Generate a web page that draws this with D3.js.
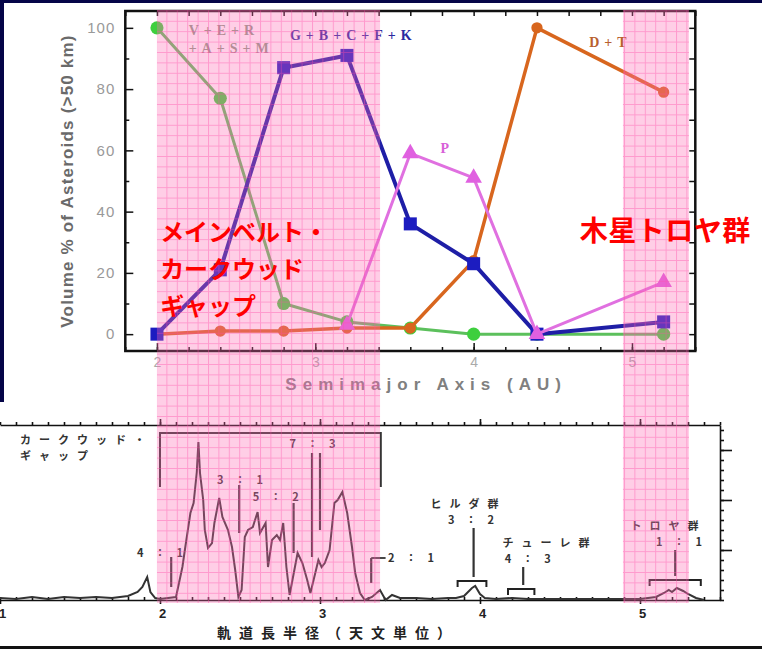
<!DOCTYPE html>
<html lang="ja">
<head>
  <meta charset="UTF-8" />
  <title>Asteroid types and Kirkwood gaps</title>
  <style>
    html, body { margin: 0; padding: 0; background: #fff; }
    svg { display: block; }
  </style>
</head>
<body>
  <svg width="762" height="649"></svg>
  <script src="https://d3js.org/d3.v7.min.js"></script>
  <script>
    // top chart: volume % of asteroids (>50 km) per class
    const bins = [2.0, 2.4, 2.8, 3.2, 3.6, 4.0, 4.4, 5.2];
    const vesrasm = [100, 77, 10, 4, 2, 0, 0, 0];
    const gbcfk = [0, 21, 87, 91, 36, 23, 0, 4];
    const pClass = [null, null, null, 3, 59, 51, 0, 17];
    const dtClass = [0, 1, 1, 2, 2, 24, 100, 79];

    const yTicks = [0, 20, 40, 60, 80, 100];
    const xTicks = [2, 3, 4, 5];

    // bottom chart: number of asteroids vs semimajor axis
    const histAU = [1.00, 1.10, 1.20, 1.30, 1.40, 1.50, 1.60, 1.70, 1.80, 1.86, 1.89, 1.92, 1.94, 1.97,
      2.00, 2.05, 2.10, 2.14, 2.16, 2.19, 2.21, 2.23, 2.24, 2.25, 2.27, 2.28, 2.30, 2.325, 2.34, 2.37,
      2.39, 2.425, 2.45, 2.47, 2.49, 2.51, 2.53, 2.55, 2.58, 2.61, 2.625, 2.66, 2.675, 2.70, 2.73, 2.75,
      2.77, 2.79, 2.81, 2.86, 2.89, 2.92, 2.94, 2.96, 2.99, 3.01, 3.03, 3.06, 3.09, 3.11, 3.14, 3.17,
      3.20, 3.22, 3.25, 3.28, 3.325, 3.375, 3.41, 3.45, 3.50, 3.60, 3.70, 3.80, 3.85, 3.90, 3.95, 3.97,
      4.00, 4.03, 4.10, 4.20, 4.30, 4.50, 4.70, 4.90, 5.00, 5.10, 5.15, 5.18, 5.20, 5.23, 5.27, 5.30,
      5.35, 5.40];
    const histCount = [2, 1, 3, 1, 3, 2, 3, 2, 4, 8, 13, 23, 8, 2,
      1, 2, 3, 33, 55, 87, 97, 128, 158, 127, 100, 70, 52, 57, 77, 102,
      83, 70, 53, 30, 3, 10, 63, 70, 73, 88, 67, 77, 33, 60, 65, 60,
      77, 33, 5, 47, 37, 20, 7, 20, 40, 33, 37, 50, 97, 100, 108, 87,
      53, 27, 7, 0, 3, 10, 0, 5, 2, 2, 1, 2, 2, 4, 12, 14,
      6, 2, 1, 2, 1, 1, 1, 1, 1, 3, 7, 10, 8, 12, 9, 6,
      2, 0];

    // resonance marker lines: position, upper and lower count
    const resAU = [2.07, 2.495, 2.835, 2.95, 3.0, 3.32, 3.96, 4.27, 5.22];
    const resTop = [43, 115, 97, 147, 147, 42, 72, 33, 50];
    const resBottom = [13, 67, 47, 43, 70, 17, 23, 15, 24];

    // group brackets: from, to, level
    const brFrom = [3.86, 4.175, 5.06];
    const brTo = [4.04, 4.34, 5.38];
    const brLevel = [19, 11, 20];

    const resLabels = ["4：1", "3：1", "5：2", "7：3", "2：1", "3：2", "4：3", "1：1"];
    const resLabelAU = [1.856, 2.356, 2.58, 2.81, 3.425, 3.80, 4.155, 5.10];
    const resLabelCount = [43, 116, 99, 152, 38, 76, 37, 54];

    const groupNames = ["ヒルダ群", "チューレ群", "トロヤ群"];
    const groupAU = [3.69, 4.14, 4.94];
    const groupCount = [92, 53, 70];

    const svg = d3.select("svg");

    // ---------- top chart ----------
    const x = d3.scaleLinear().domain([1.8, 5.4]).range([125.3, 695.3]);
    const y = d3.scaleLinear().domain([-5.5, 105.5]).range([351, 11]);

    const upper = svg.append("g").attr("font-family", "'Liberation Sans', Arial, sans-serif");

    upper.append("g")
      .attr("transform", `translate(${x.range()[0]},0)`)
      .call(d3.axisLeft(y).tickValues(yTicks).tickSizeInner(-8).tickSizeOuter(0).tickPadding(10))
      .call(g => g.select(".domain").remove())
      .call(g => g.selectAll("text").attr("font-size", 15).attr("fill", "#999").attr("letter-spacing", 1));
    upper.append("g")
      .attr("transform", `translate(${x.range()[0]},0)`)
      .call(d3.axisLeft(y).tickValues(d3.range(10, 100, 20)).tickSizeInner(-4).tickSizeOuter(0).tickFormat(""))
      .call(g => g.select(".domain").remove());
    upper.append("g")
      .attr("transform", `translate(${x.range()[1]},0)`)
      .call(d3.axisRight(y).tickValues(d3.range(0, 101, 10)).tickSizeInner(-6).tickSizeOuter(0).tickFormat(""))
      .call(g => g.select(".domain").remove());

    upper.append("g")
      .attr("transform", `translate(0,${y.range()[0]})`)
      .call(d3.axisBottom(x).tickValues(xTicks).tickSizeInner(-8).tickSizeOuter(0).tickPadding(6).tickFormat(d3.format("d")))
      .call(g => g.select(".domain").remove())
      .call(g => g.selectAll("text").attr("font-size", 14).attr("fill", "#aaa"));
    upper.append("g")
      .attr("transform", `translate(0,${y.range()[0]})`)
      .call(d3.axisBottom(x).tickValues(d3.range(1.8, 5.41, 0.2)).tickSizeInner(-4).tickSizeOuter(0).tickFormat(""))
      .call(g => g.select(".domain").remove());
    upper.append("g")
      .attr("transform", `translate(0,${y.range()[1]})`)
      .call(d3.axisTop(x).tickValues(d3.range(1.8, 5.41, 0.2)).tickSizeInner(-5).tickSizeOuter(0).tickFormat(""))
      .call(g => g.select(".domain").remove());

    upper.selectAll(".tick line").attr("stroke", "#111").attr("stroke-width", 1.5);

    upper.append("rect")
      .attr("x", x.range()[0]).attr("y", y.range()[1])
      .attr("width", x.range()[1] - x.range()[0])
      .attr("height", y.range()[0] - y.range()[1])
      .attr("fill", "none").attr("stroke", "#111").attr("stroke-width", 2.5);

    upper.append("text")
      .attr("transform", "translate(73,181) rotate(-90)")
      .attr("text-anchor", "middle")
      .attr("font-size", 17).attr("font-weight", "bold").attr("fill", "#6a6a6a")
      .attr("letter-spacing", 1.2)
      .text("Volume % of Asteroids (>50 km)");

    upper.append("text")
      .attr("x", x(3.7)).attr("y", 390)
      .attr("text-anchor", "middle")
      .attr("font-size", 17).attr("font-weight", "bold").attr("fill", "#808080")
      .attr("letter-spacing", 6)
      .text("Semimajor Axis (AU)");

    const series = [
      { values: vesrasm, color: "#5cc05c", width: 3, symbol: d3.symbolCircle, size: 135, dot: "#3ecf3e" },
      { values: dtClass, color: "#d8661e", width: 3.5, symbol: d3.symbolCircle, size: 100, dot: "#d8661e" },
      { values: gbcfk, color: "#1e1ea6", width: 4, symbol: d3.symbolSquare, size: 170, dot: "#1c1cc0" },
      { values: pClass, color: "#e070e0", width: 3, symbol: d3.symbolTriangle, size: 120, dot: "#e060e0" }
    ];

    const line = d3.line()
      .defined(d => d.v != null)
      .x(d => x(d.a))
      .y(d => y(d.v));

    series.forEach(s => {
      const pts = bins.map((a, i) => ({ a, v: s.values[i] }));
      upper.append("path")
        .datum(pts)
        .attr("d", line)
        .attr("fill", "none")
        .attr("stroke", s.color)
        .attr("stroke-width", s.width)
        .attr("stroke-linejoin", "round");
      upper.append("g")
        .selectAll("path")
        .data(pts.filter(d => d.v != null))
        .join("path")
        .attr("transform", d => `translate(${x(d.a)},${y(d.v)})`)
        .attr("d", d3.symbol().type(s.symbol).size(s.size))
        .attr("fill", s.dot);
    });

    const seriesLabels = [
      { text: "V+E+R", a: 2.2, v: 97.7, color: "#8d9c86" },
      { text: "+A+S+M", a: 2.2, v: 91.8, color: "#8d9c86" },
      { text: "G+B+C+F+K", a: 2.84, v: 96.0, color: "#2a2aa0" },
      { text: "P", a: 3.79, v: 59.1, color: "#d860d8" },
      { text: "D+T", a: 4.73, v: 93.7, color: "#b8602e" }
    ];
    upper.append("g")
      .selectAll("text")
      .data(seriesLabels)
      .join("text")
      .attr("x", d => x(d.a)).attr("y", d => y(d.v))
      .attr("font-family", "'Liberation Serif', 'Times New Roman', serif")
      .attr("font-weight", "bold")
      .attr("font-size", 14)
      .attr("letter-spacing", 5)
      .attr("fill", d => d.color)
      .text(d => d.text);

    // ---------- bottom chart ----------
    const bx = d3.scaleLinear().domain([1, 5.5]).range([0, 720]);
    const by = d3.scaleLinear().domain([0, 175]).range([600, 425]);

    const lower = svg.append("g");

    lower.append("g")
      .attr("transform", `translate(0,${by.range()[1]})`)
      .call(d3.axisTop(bx).tickValues(d3.range(1, 5.51, 0.1)).tickSizeInner(3).tickSizeOuter(0).tickFormat(""));
    lower.append("g")
      .attr("transform", `translate(0,${by.range()[1]})`)
      .call(d3.axisTop(bx).tickValues([2, 3, 4, 5]).tickSizeInner(6).tickSizeOuter(0).tickFormat(""))
      .call(g => g.select(".domain").remove());

    lower.append("g")
      .attr("transform", `translate(0,${by.range()[0]})`)
      .call(d3.axisBottom(bx).tickValues(d3.range(1, 5.51, 0.1)).tickSizeInner(-3).tickSizeOuter(0).tickFormat(""));
    lower.append("g")
      .attr("transform", `translate(0,${by.range()[0]})`)
      .call(d3.axisBottom(bx).tickValues([1, 2, 3, 4, 5]).tickSizeInner(4).tickSizeOuter(0).tickPadding(5).tickFormat(d3.format("d")))
      .call(g => g.select(".domain").remove())
      .call(g => g.selectAll("text")
        .attr("font-family", "'Liberation Sans', Arial, sans-serif")
        .attr("font-size", 13).attr("font-weight", "bold").attr("fill", "#222")
        .attr("dx", 2));

    lower.append("g")
      .attr("transform", `translate(${bx.range()[1]},0)`)
      .call(d3.axisRight(by).tickValues(d3.range(0, 176, 10)).tickSizeInner(4).tickSizeOuter(0).tickFormat(""));
    lower.append("g")
      .attr("transform", `translate(${bx.range()[1]},0)`)
      .call(d3.axisRight(by).tickValues([50, 100, 150]).tickSizeInner(12).tickSizeOuter(0).tickFormat(""))
      .call(g => g.select(".domain").remove());

    lower.selectAll(".domain, .tick line").attr("stroke", "#111").attr("stroke-width", 1.6);

    const hist = histAU.map((a, i) => ({ a, c: histCount[i] }));
    lower.append("path")
      .datum(hist)
      .attr("d", d3.line().x(d => bx(d.a)).y(d => by(d.c)))
      .attr("fill", "none")
      .attr("stroke", "#333")
      .attr("stroke-width", 2);

    lower.append("g")
      .selectAll("line")
      .data(resAU)
      .join("line")
      .attr("x1", d => bx(d)).attr("x2", d => bx(d))
      .attr("y1", (d, i) => by(resTop[i])).attr("y2", (d, i) => by(resBottom[i]))
      .attr("stroke", "#333").attr("stroke-width", 2.2);

    // dash leading to 2:1 label
    lower.append("line")
      .attr("x1", bx(3.32)).attr("x2", bx(3.41))
      .attr("y1", by(42)).attr("y2", by(42))
      .attr("stroke", "#333").attr("stroke-width", 1.8);

    // Kirkwood gap bracket
    lower.append("path")
      .attr("d", `M${bx(2.0)},${by(113)}V${by(167)}H${bx(3.38)}V${by(113)}`)
      .attr("fill", "none").attr("stroke", "#333").attr("stroke-width", 2);

    lower.append("g")
      .selectAll("path")
      .data(brFrom)
      .join("path")
      .attr("d", (d, i) => `M${bx(d)},${by(brLevel[i] - 6)}V${by(brLevel[i])}H${bx(brTo[i])}V${by(brLevel[i] - 6)}`)
      .attr("fill", "none").attr("stroke", "#222").attr("stroke-width", 2);

    const jp = "'Noto Sans CJK JP', sans-serif";

    lower.append("g")
      .selectAll("text")
      .data(resLabels)
      .join("text")
      .attr("x", (d, i) => bx(resLabelAU[i])).attr("y", (d, i) => by(resLabelCount[i]))
      .attr("font-family", jp).attr("font-size", 11).attr("font-weight", "bold")
      .attr("letter-spacing", 11).attr("fill", "#333")
      .text(d => d);

    lower.append("g")
      .selectAll("text")
      .data(groupNames)
      .join("text")
      .attr("x", (d, i) => bx(groupAU[i])).attr("y", (d, i) => by(groupCount[i]))
      .attr("font-family", jp).attr("font-size", 11).attr("font-weight", "bold")
      .attr("letter-spacing", 8).attr("fill", "#333")
      .text(d => d);

    const kirkwood = lower.append("text")
      .attr("font-family", jp).attr("font-size", 11).attr("font-weight", "bold")
      .attr("letter-spacing", 8).attr("fill", "#333");
    kirkwood.append("tspan").attr("x", 20).attr("y", 444).text("カークウッド・");
    kirkwood.append("tspan").attr("x", 20).attr("y", 460).text("ギャップ");

    lower.append("text")
      .attr("x", 217).attr("y", 638)
      .attr("font-family", jp).attr("font-size", 14).attr("font-weight", "bold")
      .attr("letter-spacing", 8).attr("fill", "#222")
      .text("軌道長半径（天文単位）");

    // ---------- pink highlight bands ----------
    const defs = svg.append("defs");
    const pat = defs.append("pattern")
      .attr("id", "grid")
      .attr("patternUnits", "userSpaceOnUse")
      .attr("width", 10.4).attr("height", 10.4);
    pat.append("rect").attr("width", 10.4).attr("height", 10.4).attr("fill", "#ff69b4").attr("fill-opacity", 0.33);
    pat.append("path").attr("d", "M0,0.5H10.4M0.5,0V10.4")
      .attr("stroke", "#ff4aa8").attr("stroke-opacity", 0.4).attr("stroke-width", 1);

    const bandFrom = [2.0, 4.943];
    const bandTo = [3.409, 5.36];
    svg.append("g")
      .selectAll("rect")
      .data(bandFrom)
      .join("rect")
      .attr("x", d => x(d))
      .attr("width", (d, i) => x(bandTo[i]) - x(d))
      .attr("y", 10).attr("height", 593)
      .attr("fill", "url(#grid)");

    // red captions
    const caption = svg.append("g")
      .attr("font-family", jp).attr("font-weight", "bold").attr("fill", "#ff0000");
    ["メインベルト・", "カークウッド", "ギャップ"].forEach((t, i) => {
      caption.append("text")
        .attr("x", x(2.02)).attr("y", y(30.4 - i * 12.1))
        .attr("font-size", 24)
        .text(t);
    });
    caption.append("text")
      .attr("x", x(4.67)).attr("y", y(30.4))
      .attr("font-size", 28)
      .attr("letter-spacing", 0.5)
      .text("木星トロヤ群");

    // frame of the slide
    svg.append("rect").attr("x", 0).attr("y", 0).attr("width", 762).attr("height", 3).attr("fill", "#050548");
    svg.append("rect").attr("x", 0).attr("y", 0).attr("width", 4).attr("height", 402).attr("fill", "#050548");
    svg.append("rect").attr("x", 0).attr("y", 646).attr("width", 762).attr("height", 3).attr("fill", "#111");
  </script>
</body>
</html>
